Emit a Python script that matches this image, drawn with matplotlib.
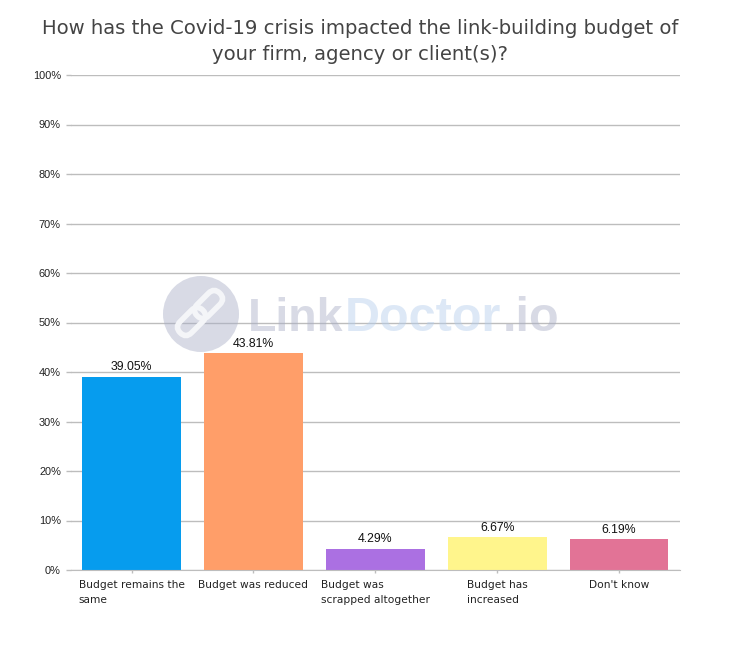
import numpy as np
import matplotlib
matplotlib.use('Agg')
import matplotlib.pyplot as plt
from matplotlib.patches import Circle, FancyBboxPatch
from matplotlib.transforms import Affine2D

categories = ['Budget remains the\nsame', 'Budget was reduced', 'Budget was\nscrapped altogether',
              'Budget has\nincreased', "Don't know"]
values = [39.05, 43.81, 4.29, 6.67, 6.19]
colors = ['#069cee', '#ff9e69', '#ab70e2', '#fff58c', '#e27396']
yticks = [0, 10, 20, 30, 40, 50, 60, 70, 80, 90, 100]
title = 'How has the Covid-19 crisis impacted the link-building budget of\nyour firm, agency or client(s)?'

W, H = 734, 658
fig = plt.figure(figsize=(W / 100, H / 100), dpi=100)
ax = fig.add_axes([70.6 / W, 1 - 570 / H, 609.4 / W, 495 / H])

x = np.arange(len(values))
bars = ax.bar(x, values, width=0.81, color=colors, zorder=2)
for i in range(len(values)):
    ax.text(x[i], values[i] + 0.7, '%.2f%%' % values[i], ha='center', va='bottom',
            fontsize=8.8, family='Liberation Sans', color='#111111')

ax.set_xlim(-0.5, 4.5)
ax.set_ylim(0, 100)
ax.set_yticks(yticks)
ax.set_yticklabels(['%d%%' % v for v in yticks], fontsize=7.9, family='Liberation Sans', color='#222222')
ax.set_xticks(x)
ax.set_xticklabels(categories, fontsize=7.7, color='#222222', multialignment='left', linespacing=1.55)
ax.grid(axis='y', color='#bdbdbd', lw=1, zorder=1)
ax.tick_params(axis='y', length=3.4, color='#bdbdbd', width=1, pad=3.6)
ax.tick_params(axis='x', length=2.5, color='#bdbdbd', width=1, pad=5)
for s in ['top', 'right', 'left']:
    ax.spines[s].set_visible(False)
ax.spines['bottom'].set_color('#bdbdbd')

fig.text(360 / W, 1 - 41.5 / H, title, ha='center', va='center', fontsize=14.1, color='#444444', linespacing=1.4)

# watermark, drawn in pixel coordinates on top of the chart
px = Affine2D().scale(1, -1).translate(0, H)
fig.add_artist(Circle((201, 314), 38, transform=px, color='#a9aec6', alpha=0.45, lw=0))
rot = Affine2D().rotate_deg_around(200, 313, -45) + px
for cx, cy in [(188, 313), (212, 313)]:
    link = FancyBboxPatch((cx - 16, cy - 8), 32, 16, boxstyle='round,pad=0,rounding_size=8',
                          transform=rot, fc='none', ec='#f4f5f8', lw=4)
    fig.add_artist(link)

wm = [('Link', 248, 33.5, '#a9aec6'), ('Doctor', 344.5, 35, '#b4cdec'), ('.io', 503, 35, '#a9aec6')]
for s, xp, fs, c in wm:
    fig.text(xp / W, 1 - 331 / H, s, fontsize=fs, fontweight='bold', family='Liberation Sans',
             color=c, alpha=0.45, ha='left', va='baseline')

fig.savefig('out.png', dpi=100)
